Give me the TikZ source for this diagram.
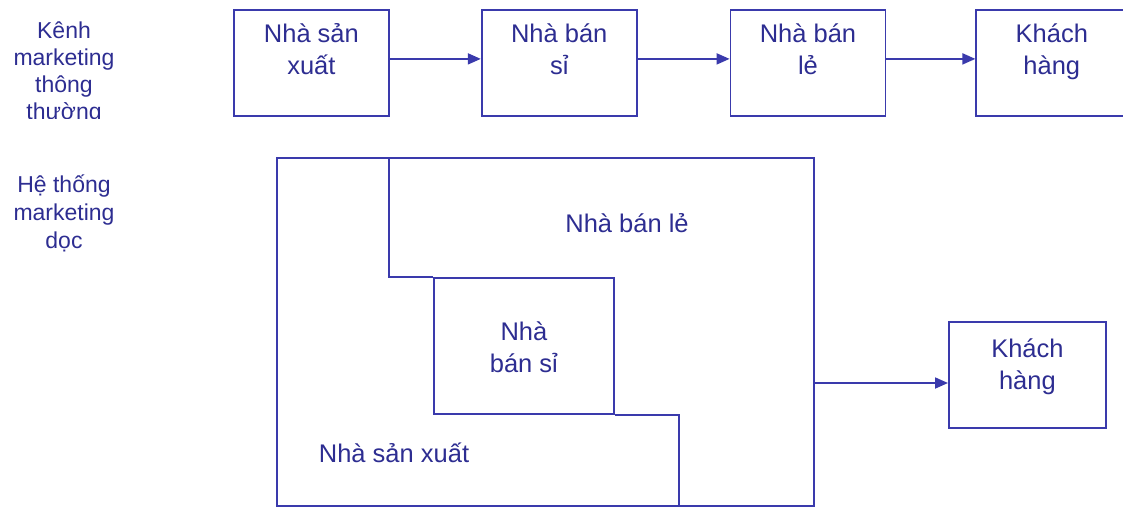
\documentclass[tikz,border=0pt]{standalone}
\usepackage{fontspec}
\setmainfont{Liberation Sans}
\usepackage{xcolor}
\usetikzlibrary{arrows.meta,positioning}
\definecolor{kenhline}{RGB}{58,58,172}
\definecolor{kenhtext}{RGB}{45,45,145}
\tikzset{
	kbox/.style={draw=kenhline,line width=1.8pt,minimum width=155pt,minimum height=106pt,inner sep=0pt},
	kline/.style={draw=kenhline,line width=1.8pt},
	ktext/.style={text=kenhtext,align=center,inner sep=0pt,anchor=base,font=\fontsize{25.5}{32}\selectfont},
	sidetext/.style={text=kenhtext,align=center,inner sep=0pt,anchor=base,font=\fontsize{23}{27}\selectfont},
	flow/.style={kline,-{Triangle[length=13pt,width=11pt]}}
}

\begin{document}
\begin{tikzpicture}[x=1pt,y=-1pt]
	\useasboundingbox (0,0) rectangle (1123,506);

	% kenh thong thuong (base = last line)
	\begin{scope}
		\clip (0,0) rectangle (230,118);
		\node[sidetext] (kenh) at (64,119) {Kênh\\marketing\\thông\\thường};
	\end{scope}
	\node[kbox,anchor=north west] (nsx) at (233,9) {};
	\node[kbox,right=91pt of nsx] (nbs) {};
	\node[kbox,right=92pt of nbs] (nbl) {};
	\node[kbox,right=89pt of nbl,minimum width=151pt] (kh) {};
	\node[ktext] (tnsx) at (nsx.north |- 0,74) {Nhà sản\\xuất};
	\node[ktext] (tnbs) at (nbs.north |- 0,74) {Nhà bán\\sỉ};
	\node[ktext] (tnbl) at (nbl.north |- 0,74) {Nhà bán\\lẻ};
	\node[ktext] (tkh) at (kh.north |- 0,74) {Khách\\hàng};
	\draw[flow] ([yshift=4pt]nsx.east) -- ([yshift=4pt]nbs.west);
	\draw[flow] ([yshift=4pt]nbs.east) -- ([yshift=4pt]nbl.west);
	\draw[flow] ([yshift=4pt]nbl.east) -- ([yshift=4pt]kh.west);

	% he thong doc
	\node[sidetext,font=\fontsize{23}{28}\selectfont] (doc) at (64,248) {Hệ thống\\marketing\\dọc};
	\node[kbox,anchor=north west,minimum width=537pt,minimum height=348pt] (vms) at (276,157) {};
	\node[kbox,anchor=north west,minimum width=180pt,minimum height=136pt] (vbs) at (433,277) {};
	\draw[kline] (389,157) |- (vbs.north west);
	\draw[kline] (vbs.south east) -| (679,505);
	\node[ktext] (tvbl) at (627,232) {Nhà bán lẻ};
	\node[ktext] (tvbs) at (vbs.north |- 0,372) {Nhà\\bán sỉ};
	\node[ktext] (tvsx) at (394,462) {Nhà sản xuất};
	\node[kbox,anchor=north west,minimum width=157pt,minimum height=106pt] (kh2) at (948,321) {};
	\node[ktext] (tkh2) at (kh2.north |- 0,389) {Khách\\hàng};
	\coordinate (ra) at (813,383);
	\draw[flow] (ra) -- (ra -| kh2.west);
\end{tikzpicture}
\end{document}
